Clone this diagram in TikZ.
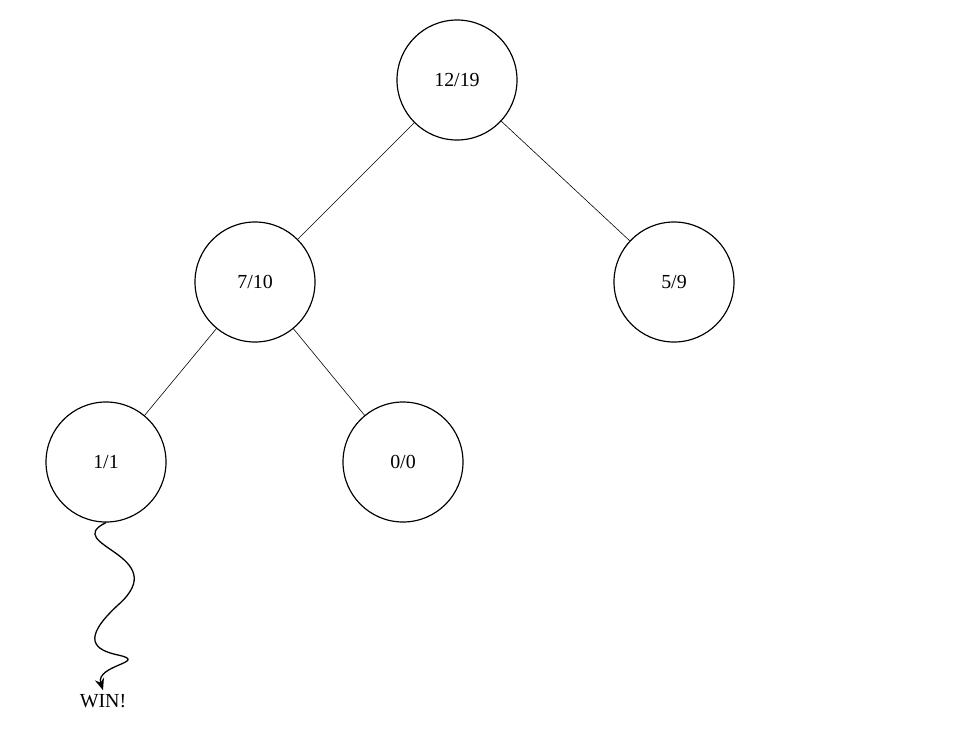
\documentclass[tikz,border=0pt]{standalone}
\usepackage{fontspec}
\setmainfont{Liberation Serif}
\usetikzlibrary{positioning,arrows.meta}

\begin{document}
\begin{tikzpicture}[x=0.03cm, y=-0.03cm,
    treenode/.style={draw, circle, line width=1pt, minimum size=3.6cm, inner sep=0pt, font=\fontsize{17}{19}\selectfont},
    edgeline/.style={draw, line width=0.5pt}]
        \useasboundingbox (0,0) rectangle (960,747);
        % Define nodes
        \node[treenode] (root)  at (457,80)  {12/19};
        \node[treenode] (left)  at (255,282) {7/10};
        \node[treenode] (right) at (674,282) {5/9};
        \node[treenode] (win)   at (106,462) {1/1};
        \node[treenode] (empty) at (403,462) {0/0};
        \node[font=\fontsize{17}{19}\selectfont] (result) at (103,701) {WIN!};

        % Connect the nodes
        \draw[edgeline] (root) -- (left);
        \draw[edgeline] (root) -- (right);
        \draw[edgeline] (left) -- (win);
        \draw[edgeline] (left) -- (empty);

        % Playout
        \draw[line width=1.1pt, -{Stealth[length=10pt,width=8pt]}] (win.south)
            .. controls (60,545) and (175,555) .. (118,605)
            .. controls (80,640) and (95,650) .. (118,655)
            .. controls (150,662) and (95,665) .. (result.north);
    \end{tikzpicture}
\end{document}
